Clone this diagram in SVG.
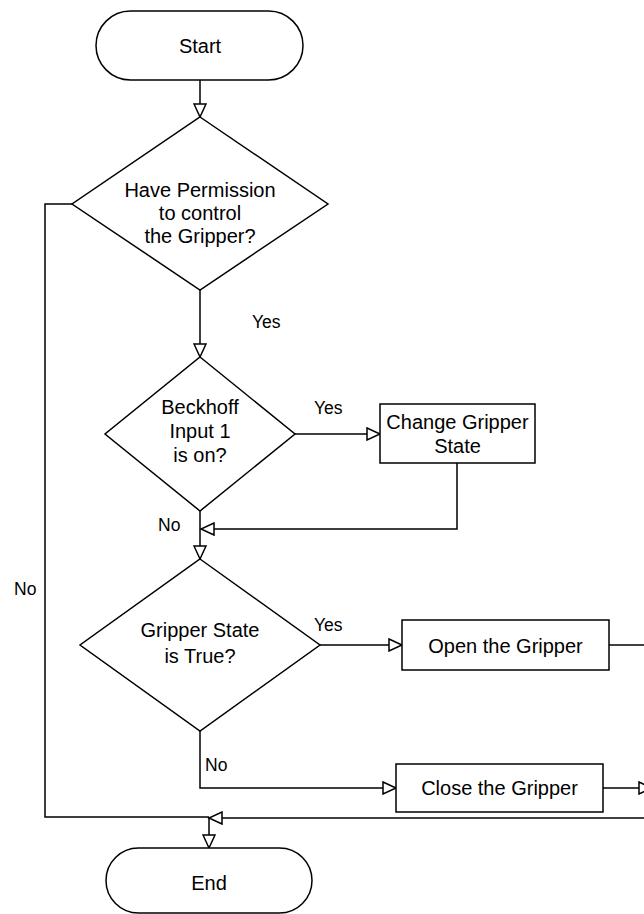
<svg xmlns="http://www.w3.org/2000/svg" width="644" height="914" viewBox="0 0 644 914">
  <style>
    .shape { fill: #ffffff; stroke: #000000; stroke-width: 1.5; }
    .edge { fill: none; stroke: #000000; stroke-width: 1.5; }
    .txt { font-family: "Liberation Sans", Arial, sans-serif; font-size: 20px; fill: #000000; text-anchor: middle; }
    .lbl { font-family: "Liberation Sans", Arial, sans-serif; font-size: 17.5px; fill: #000000; }
  </style>
  <defs>
    <marker id="open" markerUnits="userSpaceOnUse" markerWidth="16" markerHeight="14" refX="13" refY="6" orient="auto" viewBox="-1 -1 16 14">
      <path d="M0,0 L13,6 L0,12 Z" fill="#ffffff" stroke="#000000" stroke-width="1.5"/>
    </marker>
  </defs>
  <rect width="644" height="914" fill="#ffffff"/>

  <!-- connectors -->
  <g id="connectors">
    <path class="edge" d="M200,80 V117" marker-end="url(#open)"/>
    <path class="edge" d="M200,290 V357" marker-end="url(#open)"/>
    <path class="edge" d="M295,434 H380" marker-end="url(#open)"/>
    <path class="edge" d="M457,463 V529 H201" marker-end="url(#open)"/>
    <path class="edge" d="M200,511 V559" marker-end="url(#open)"/>
    <path class="edge" d="M320,645 H402" marker-end="url(#open)"/>
    <path class="edge" d="M609,645 H644"/>
    <path class="edge" d="M200,731 V788 H396" marker-end="url(#open)"/>
    <path class="edge" d="M603,788 H652" marker-end="url(#open)"/>
    <path class="edge" d="M72,204 H45 V817 H209"/>
    <path class="edge" d="M644,818 H209" marker-end="url(#open)"/>
    <path class="edge" d="M209,817 V848" marker-end="url(#open)"/>

    <text class="lbl" x="252" y="328">Yes</text>
    <text class="lbl" x="314" y="414">Yes</text>
    <text class="lbl" x="158" y="531">No</text>
    <text class="lbl" x="314" y="631">Yes</text>
    <text class="lbl" x="205" y="771">No</text>
    <text class="lbl" x="14" y="595">No</text>
  </g>

  <g id="start">
    <rect class="shape" x="96" y="11" width="207" height="69" rx="34.5" ry="34.5"/>
    <text class="txt" x="200" y="53">Start</text>
  </g>

  <g id="permission">
    <polygon class="shape" points="200,117 328,204 200,290 72,204"/>
    <text class="txt" x="200" y="197">Have Permission</text>
    <text class="txt" x="200" y="220">to control</text>
    <text class="txt" x="200" y="243">the Gripper?</text>
  </g>

  <g id="beckhoff">
    <polygon class="shape" points="200,357 295,434 200,511 105,434"/>
    <text class="txt" x="200" y="414">Beckhoff</text>
    <text class="txt" x="200" y="438">Input 1</text>
    <text class="txt" x="200" y="462">is on?</text>
  </g>

  <g id="change-state">
    <rect class="shape" x="380" y="404" width="155" height="59"/>
    <text class="txt" x="457.5" y="429">Change Gripper</text>
    <text class="txt" x="457.5" y="453">State</text>
  </g>

  <g id="state-true">
    <polygon class="shape" points="200,559 320,645 200,731 80,645"/>
    <text class="txt" x="200" y="637">Gripper State</text>
    <text class="txt" x="200" y="663">is True?</text>
  </g>

  <g id="open-gripper">
    <rect class="shape" x="402" y="620" width="207" height="50"/>
    <text class="txt" x="505.5" y="653">Open the Gripper</text>
  </g>

  <g id="close-gripper">
    <rect class="shape" x="396" y="764" width="207" height="48"/>
    <text class="txt" x="499.5" y="795">Close the Gripper</text>
  </g>

  <g id="end">
    <rect class="shape" x="106" y="848" width="206" height="65" rx="32.5" ry="32.5"/>
    <text class="txt" x="209" y="890">End</text>
  </g>
</svg>
